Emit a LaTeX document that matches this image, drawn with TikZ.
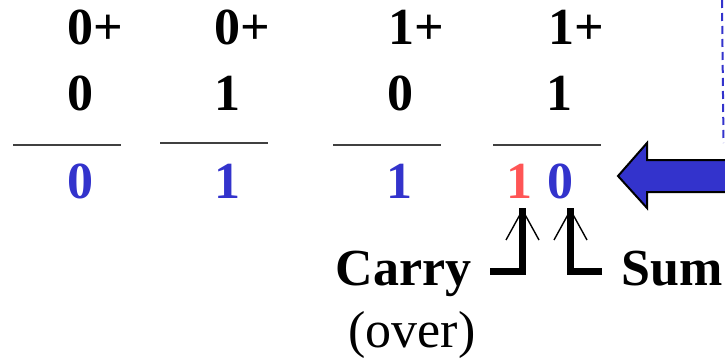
\documentclass[tikz,border=0pt]{standalone}
\usepackage{fontspec}
\setmainfont{Liberation Serif}
\definecolor{dblue}{HTML}{3333CC}
\definecolor{dred}{HTML}{FF5555}
\definecolor{rule}{HTML}{404040}
\tikzset{
  digit/.style={inner sep=0pt, anchor=base, font=\fontsize{52}{60}\selectfont\bfseries},
  lbl/.style={inner sep=0pt, font=\fontsize{52}{60}\selectfont\bfseries},
  sumrule/.style={draw=rule, line width=1.6pt},
  thickbar/.style={line width=7.5pt, line join=miter},
  vtip/.style={line width=1.4pt},
}
\begin{document}
\begin{tikzpicture}[x=1pt,y=-1pt]
\useasboundingbox (0,0) rectangle (725,361);
\clip (0,0) rectangle (725,361);
% column 1
\node[digit] (a1) at (95.5,45) {0+};
\node[digit] (b1) at (80,110) {0};
\coordinate (l1a) at (13,145); \coordinate (l1b) at (121,145);
\draw[sumrule] (l1a) -- (l1b);
\node[digit, text=dblue] (r1) at (80,198) {0};
% column 2
\node[digit] (a2) at (242.5,45) {0+};
\node[digit] (b2) at (227,110) {1};
\coordinate (l2a) at (160,143); \coordinate (l2b) at (268,143);
\draw[sumrule] (l2a) -- (l2b);
\node[digit, text=dblue] (r2) at (227,198) {1};
% column 3
\node[digit] (a3) at (416.5,45) {1+};
\node[digit] (b3) at (400,110) {0};
\coordinate (l3a) at (333,145); \coordinate (l3b) at (441,145);
\draw[sumrule] (l3a) -- (l3b);
\node[digit, text=dblue] (r3) at (399.5,198) {1};
% column 4
\node[digit] (a4) at (576,45) {1+};
\node[digit] (b4) at (559,110) {1};
\coordinate (l4a) at (493,145); \coordinate (l4b) at (601,145);
\draw[sumrule] (l4a) -- (l4b);
\node[digit, text=dred] (r4c) at (519.5,198) {1};
\node[digit, text=dblue] (r4s) at (560,198) {0};
% labels
\node[lbl, anchor=base] (carry) at (403.5,285) {Carry};
\node[inner sep=0pt, anchor=base, font=\fontsize{52}{60}\selectfont] (over) at (412,347) {(over)};
\node[lbl, anchor=base west] (sum) at (621,285) {Sum};
% carry connector
\coordinate (cstart) at (490,271.5);
\coordinate (ccorner) at (522.5,271.5);
\coordinate (ctip) at (522.5,208);
\draw[thickbar] (cstart) -- (ccorner) -- (ctip);
\draw[vtip] (506,240) -- (522.5,210) -- (539,240);
% sum connector
\coordinate (sstart) at (602,271.5);
\coordinate (scorner) at (570.5,271.5);
\coordinate (stip) at (570.5,208);
\draw[thickbar] (sstart) -- (scorner) -- (stip);
\draw[vtip] (554,240) -- (570.5,210) -- (587,240);
% big arrow
\draw[fill=dblue, draw=black, line width=2pt, line join=miter]
  (618,176) -- (647,143) -- (647,160) -- (740,160) -- (740,192) -- (647,192) -- (647,208) -- cycle;
% dashed line
\coordinate (dtop) at (722,0);
\coordinate (dbot) at (723.5,143);
\draw[dblue, line width=2pt, dash pattern=on 8pt off 5pt] (dtop) -- (dbot);
\end{tikzpicture}
\end{document}
